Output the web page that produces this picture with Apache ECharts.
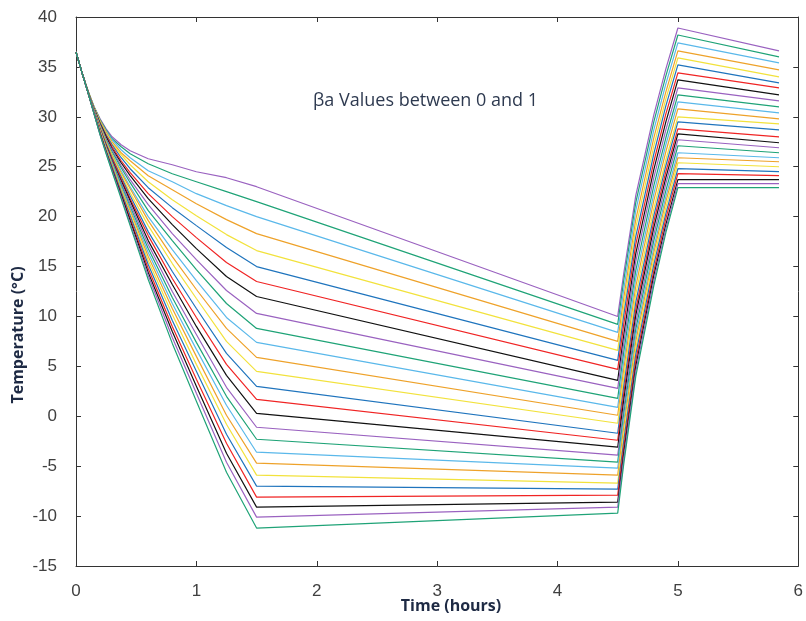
<!DOCTYPE html>
<html>
<head>
<meta charset="utf-8">
<script src="https://cdn.jsdelivr.net/npm/echarts@6/dist/echarts.min.js"></script>
<style>
html,body{margin:0;padding:0;background:#fff;}
#chart{width:806px;height:621px;}
</style>
</head>
<body>
<div id="chart"></div>
<script>
// Time samples (hours)
const times = [0, 0.05, 0.1, 0.15, 0.2, 0.25, 0.3, 0.375, 0.45, 0.6, 0.8, 1.0, 1.25, 1.5, 4.5, 4.55, 4.65, 4.8, 4.9, 5.0, 5.84];

// Temperature curves (°C), top to bottom
const line01 = [36.5, 34.4, 32.6, 31.0, 29.8, 28.8, 28.0, 27.2, 26.6, 25.8, 25.2, 24.5, 23.9, 23.0, 10.0, 14.3, 22.1, 30.2, 34.8, 38.9, 36.6];
const line02 = [36.5, 34.4, 32.6, 31.0, 29.7, 28.7, 27.8, 27.0, 26.3, 25.3, 24.3, 23.5, 22.5, 21.5, 9.2, 13.6, 21.4, 29.5, 34.1, 38.2, 36.0];
const line03 = [36.5, 34.4, 32.6, 30.9, 29.6, 28.6, 27.7, 26.7, 25.9, 24.6, 23.5, 22.3, 21.1, 20.0, 8.4, 12.7, 20.6, 28.7, 33.3, 37.4, 35.4];
const line04 = [36.5, 34.4, 32.6, 30.9, 29.6, 28.5, 27.5, 26.4, 25.6, 24.1, 22.7, 21.3, 19.7, 18.3, 7.5, 11.8, 19.7, 27.9, 32.5, 36.6, 34.7];
const line05 = [36.5, 34.4, 32.6, 30.9, 29.5, 28.3, 27.3, 26.2, 25.2, 23.5, 21.7, 20.1, 18.2, 16.6, 6.6, 11.0, 18.9, 27.1, 31.8, 35.9, 34.0];
const line06 = [36.5, 34.4, 32.5, 30.8, 29.4, 28.2, 27.2, 25.9, 24.8, 22.9, 20.9, 19.1, 16.9, 15.0, 5.6, 10.1, 18.0, 26.3, 31.1, 35.2, 33.4];
const line07 = [36.5, 34.4, 32.5, 30.8, 29.3, 28.1, 27.0, 25.6, 24.4, 22.3, 20.0, 17.9, 15.4, 13.5, 4.7, 9.2, 17.2, 25.5, 30.3, 34.4, 32.9];
const line08 = [36.5, 34.4, 32.5, 30.8, 29.3, 28.0, 26.8, 25.4, 24.1, 21.8, 19.2, 16.8, 14.0, 12.0, 3.6, 8.1, 16.3, 24.7, 29.5, 33.7, 32.2];
const line09 = [36.5, 34.4, 32.5, 30.7, 29.2, 27.8, 26.7, 25.1, 23.7, 21.2, 18.3, 15.7, 12.6, 10.3, 2.8, 7.3, 15.5, 23.9, 28.7, 32.9, 31.6];
const line10 = [36.5, 34.4, 32.5, 30.7, 29.1, 27.7, 26.5, 24.9, 23.4, 20.6, 17.6, 14.7, 11.3, 8.8, 1.8, 6.4, 14.6, 23.1, 27.9, 32.2, 31.0];
const line11 = [36.5, 34.4, 32.5, 30.7, 29.0, 27.6, 26.3, 24.6, 23.0, 20.0, 16.7, 13.6, 9.9, 7.4, 0.9, 5.5, 13.8, 22.3, 27.2, 31.5, 30.4];
const line12 = [36.5, 34.4, 32.5, 30.6, 29.0, 27.5, 26.2, 24.4, 22.8, 19.6, 16.0, 12.7, 8.8, 5.9, 0.1, 4.7, 13.0, 21.6, 26.5, 30.8, 29.8];
const line13 = [36.5, 34.4, 32.5, 30.6, 28.9, 27.4, 26.1, 24.2, 22.4, 19.1, 15.3, 11.8, 7.5, 4.5, -0.7, 3.9, 12.2, 20.8, 25.7, 30.0, 29.3];
const line14 = [36.5, 34.4, 32.5, 30.6, 28.8, 27.3, 25.9, 24.0, 22.1, 18.5, 14.5, 10.8, 6.3, 3.0, -1.7, 3.0, 11.4, 20.1, 25.1, 29.5, 28.7];
const line15 = [36.5, 34.4, 32.5, 30.6, 28.8, 27.2, 25.8, 23.8, 21.8, 18.1, 13.8, 9.9, 5.2, 1.7, -2.4, 2.3, 10.7, 19.5, 24.5, 28.8, 28.0];
const line16 = [36.5, 34.4, 32.5, 30.5, 28.7, 27.1, 25.6, 23.6, 21.6, 17.6, 13.2, 9.0, 4.1, 0.3, -3.1, 1.6, 10.1, 18.9, 23.9, 28.3, 27.4];
const line17 = [36.5, 34.4, 32.5, 30.5, 28.7, 27.0, 25.5, 23.4, 21.3, 17.2, 12.5, 8.2, 2.9, -1.1, -3.9, 0.8, 9.4, 18.2, 23.3, 27.7, 26.9];
const line18 = [36.5, 34.4, 32.5, 30.5, 28.6, 26.9, 25.4, 23.2, 21.0, 16.8, 11.9, 7.4, 2.0, -2.3, -4.6, 0.2, 8.7, 17.6, 22.6, 27.1, 26.4];
const line19 = [36.5, 34.4, 32.4, 30.5, 28.6, 26.9, 25.3, 23.0, 20.8, 16.4, 11.3, 6.7, 1.1, -3.6, -5.2, -0.5, 8.1, 16.9, 22.0, 26.4, 25.9];
const line20 = [36.5, 34.4, 32.4, 30.4, 28.5, 26.8, 25.2, 22.8, 20.6, 16.0, 10.8, 6.0, 0.1, -4.7, -5.9, -1.1, 7.5, 16.4, 21.5, 25.9, 25.5];
const line21 = [36.5, 34.4, 32.4, 30.4, 28.5, 26.7, 25.1, 22.7, 20.3, 15.6, 10.2, 5.2, -0.8, -5.9, -6.7, -1.9, 6.8, 15.8, 20.9, 25.4, 25.0];
const line22 = [36.5, 34.4, 32.4, 30.4, 28.4, 26.6, 25.0, 22.5, 20.1, 15.2, 9.6, 4.5, -1.8, -7.0, -7.3, -2.5, 6.2, 15.2, 20.3, 24.8, 24.5];
const line23 = [36.5, 34.4, 32.4, 30.4, 28.4, 26.5, 24.8, 22.3, 19.8, 14.8, 9.0, 3.7, -2.7, -8.1, -7.9, -3.1, 5.6, 14.6, 19.8, 24.3, 24.1];
const line24 = [36.5, 34.4, 32.4, 30.3, 28.3, 26.5, 24.7, 22.2, 19.6, 14.4, 8.5, 3.0, -3.7, -9.1, -8.6, -3.7, 5.0, 14.1, 19.2, 23.7, 23.7];
const line25 = [36.5, 34.4, 32.4, 30.3, 28.2, 26.4, 24.6, 22.0, 19.3, 14.1, 7.9, 2.3, -4.6, -10.1, -9.1, -4.3, 4.5, 13.6, 18.8, 23.3, 23.3];
const line26 = [36.5, 34.4, 32.4, 30.3, 28.2, 26.3, 24.5, 21.8, 19.1, 13.7, 7.3, 1.5, -5.6, -11.2, -9.7, -4.8, 4.0, 13.1, 18.4, 22.9, 22.9];

const curves = [line01, line02, line03, line04, line05, line06, line07, line08, line09, line10,
  line11, line12, line13, line14, line15, line16, line17, line18, line19, line20,
  line21, line22, line23, line24, line25, line26];

const palette = ['#9a62c0', '#1fa377', '#5ab8ea', '#eea22a', '#f2e23c', '#1f74bd', '#f02424', '#111111'];

const xTicks = [0, 1, 2, 3, 4, 5, 6];
const yTicks = [-15, -10, -5, 0, 5, 10, 15, 20, 25, 30, 35, 40];

const chart = echarts.init(document.getElementById('chart'), null, {renderer: 'canvas'});

const series = curves.map((vals, i) => ({
  type: 'line',
  name: 'line' + (i + 1),
  data: times.map((t, k) => [t, vals[k]]),
  symbol: 'none',
  showSymbol: false,
  smooth: false,
  lineStyle: {width: 1.2, color: palette[i % palette.length]},
  itemStyle: {color: palette[i % palette.length]},
  emphasis: {disabled: true},
  z: 2
}));

const axisLineStyle = {show: true, onZero: false, lineStyle: {color: '#333', width: 1}};
const tickStyle = {show: true, inside: true, length: 5, lineStyle: {color: '#333', width: 1}};
const labelFont = {color: '#404040', fontSize: 17, fontFamily: 'Liberation Sans, Arial, sans-serif'};

chart.setOption({
  animation: false,
  backgroundColor: '#ffffff',
  grid: {left: 76, right: 6, top: 17, bottom: 55, containLabel: false},
  xAxis: [
    {type: 'value', position: 'bottom', min: xTicks[0], max: xTicks[xTicks.length - 1], interval: 1,
     axisLine: axisLineStyle, axisTick: tickStyle, splitLine: {show: false},
     axisLabel: Object.assign({margin: 17}, labelFont)},
    {type: 'value', position: 'top', min: xTicks[0], max: xTicks[xTicks.length - 1], interval: 1,
     axisLine: axisLineStyle, axisTick: tickStyle, splitLine: {show: false}, axisLabel: {show: false}}
  ],
  yAxis: [
    {type: 'value', position: 'left', min: yTicks[0], max: yTicks[yTicks.length - 1], interval: 5,
     axisLine: axisLineStyle, axisTick: tickStyle, splitLine: {show: false},
     axisLabel: Object.assign({margin: 19}, labelFont)},
    {type: 'value', position: 'right', min: yTicks[0], max: yTicks[yTicks.length - 1], interval: 5,
     axisLine: axisLineStyle, axisTick: tickStyle, splitLine: {show: false}, axisLabel: {show: false}}
  ],
  graphic: [
    {type: 'text', left: 313, top: 92,
     style: {text: 'βa Values between 0 and 1', fill: '#2e3a50', fontSize: 18,
             fontFamily: 'Open Sans, Noto Sans, sans-serif'}},
    {type: 'text', x: 451, y: 606,
     style: {text: 'Time (hours)', fill: '#1e2a44', fontSize: 16, fontWeight: 'bold',
             fontFamily: 'Open Sans, Noto Sans, sans-serif', align: 'center', verticalAlign: 'middle'}},
    {type: 'text', x: 18, y: 335, rotation: Math.PI / 2,
     style: {text: 'Temperature (°C)', fill: '#1e2a44', fontSize: 16, fontWeight: 'bold',
             fontFamily: 'Open Sans, Noto Sans, sans-serif', align: 'center', verticalAlign: 'middle'}}
  ],
  series: series
});
</script>
</body>
</html>
